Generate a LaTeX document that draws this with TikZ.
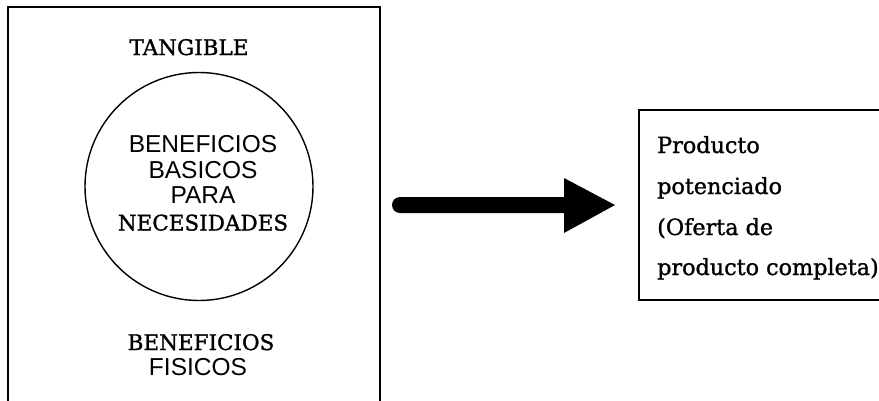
\documentclass[tikz,border=0pt]{standalone}
\usepackage{fontspec}
\setmainfont{DejaVu Serif}
\newfontfamily\plainsans{Liberation Sans}
\newfontfamily\slab[FakeBold=1.2]{DejaVu Serif}
\begin{document}
\begin{tikzpicture}[x=1pt,y=-1pt,
  frame/.style={draw=black,line width=1.5pt},
  slabcap/.style={anchor=base,inner sep=0pt,font=\slab\fontsize{21.5}{24}\selectfont},
  sanscap/.style={anchor=base,inner sep=0pt,font=\plainsans\fontsize{24.5}{27}\selectfont},
  offer/.style={anchor=base west,inner sep=0pt,font=\slab\fontsize{22.3}{26}\selectfont}]
  \useasboundingbox (0,0) rectangle (879,400);
  \fill[white] (0,0) rectangle (879,400);

  % left panel: open at the bottom edge
  \draw[frame] (8,420) -- (8,7) -- (380,7) -- (380,420);
  \node[circle,draw=black,line width=1.4pt,minimum size=228pt,inner sep=0pt] (core) at (199,186.5) {};

  \node[slabcap] (tang) at (189,55) {TANGIBLE};
  \node[sanscap] (b1) at (203,152) {BENEFICIOS};
  \node[sanscap] (b2) at (203,178) {BASICOS};
  \node[sanscap] (b3) at (203,203.5) {PARA};
  \node[slabcap] (b4) at (203,230.5) {NECESIDADES};
  \node[slabcap] (f1) at (201,350) {BENEFICIOS};
  \node[sanscap] (f2) at (198,375) {FISICOS};

  % block arrow with a rounded tail
  \coordinate (tail) at (400,205);
  \coordinate (tip) at (615,205);
  \fill[black] (400,197) -- (564,197) -- (564,178) -- (tip) -- (564,233) -- (564,213) -- (400,213)
     arc[start angle=90,end angle=270,radius=8] -- cycle;

  % right panel: open at the right edge
  \draw[frame] (900,110) -- (639,110) -- (639,300) -- (900,300);
  \node[offer] (o1) at (657,153) {Producto};
  \node[offer] (o2) at (657,194) {potenciado};
  \node[offer] (o3) at (657,235) {(Oferta de};
  \node[offer] (o4) at (657,275) {producto completa)};
\end{tikzpicture}
\end{document}
